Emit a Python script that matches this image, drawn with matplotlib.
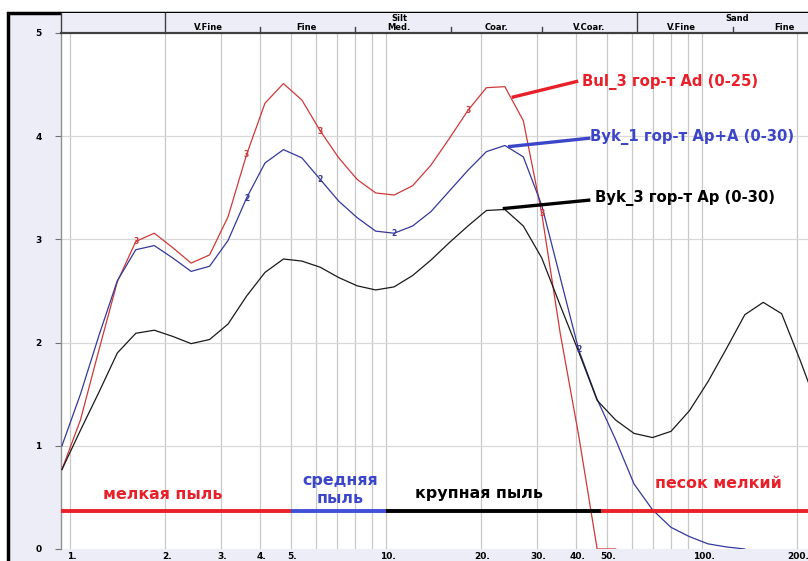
# Гранулометрический состав: кривые распределения частиц (лазерная дифрактометрия)
import matplotlib.pyplot as plt
import matplotlib.patches as mpatches
import matplotlib.transforms as mtransforms

plt.rcParams['font.family'] = ['DejaVu Sans']

# ---------------------------------------------------------------------------
# данные: размер частиц (мкм) и значения кривых
# ---------------------------------------------------------------------------
sizes = [0.943, 1.079, 1.235, 1.412, 1.615, 1.848, 2.114, 2.417, 2.766, 3.164,
         3.619, 4.140, 4.736, 5.418, 6.197, 7.089, 8.110, 9.278, 10.61, 12.14,
         13.88, 15.88, 18.17, 20.78, 23.78, 27.20, 31.11, 35.59, 40.72, 46.58,
         53.28, 60.95, 69.73, 79.77, 91.25, 104.4, 119.4, 136.6, 156.2, 178.7,
         204.4, 233.8]

bul3 = [0.77, 1.25, 1.93, 2.59, 2.98, 3.06, 2.92, 2.77, 2.85, 3.22,
        3.82, 4.32, 4.51, 4.35, 4.05, 3.79, 3.58, 3.45, 3.43, 3.52,
        3.72, 3.98, 4.25, 4.47, 4.48, 4.15, 3.25, 2.09, 1.10, 0.0, 0.0]

byk1 = [1.00, 1.50, 2.07, 2.60, 2.90, 2.94, 2.82, 2.69, 2.74, 2.99,
        3.40, 3.74, 3.87, 3.79, 3.58, 3.37, 3.21, 3.08, 3.06, 3.13,
        3.27, 3.47, 3.67, 3.85, 3.91, 3.80, 3.33, 2.63, 1.93, 1.45,
        1.06, 0.63, 0.38, 0.21, 0.12, 0.05, 0.02, 0.0]

byk3 = [0.77, 1.15, 1.52, 1.90, 2.09, 2.12, 2.06, 1.99, 2.03, 2.18,
        2.45, 2.68, 2.81, 2.79, 2.73, 2.63, 2.55, 2.51, 2.54, 2.65,
        2.80, 2.97, 3.13, 3.28, 3.29, 3.13, 2.82, 2.36, 1.91, 1.44,
        1.25, 1.12, 1.08, 1.14, 1.34, 1.62, 1.94, 2.27, 2.39, 2.28,
        1.83, 1.35]

# номера точек с цифровыми метками кривых
bul3_marks = [4, 10, 14, 22, 26]
byk1_marks = [10, 14, 18, 28]

# подписи шкалы
x_ticks = [1, 2, 3, 4, 5, 10, 20, 30, 40, 50, 100, 200]
x_grid = [1, 2, 3, 4, 5, 6, 7, 8, 9, 10, 20, 30, 40, 50, 60, 70, 80, 90, 100, 200]
y_ticks = [0, 1, 2, 3, 4, 5]

# шапка: классы Вентворта
class_bounds_major = [2, 62.5]
class_bounds_minor = [4, 8, 16, 31.25, 125]
class_names = ['V.Fine', 'Fine', 'Med.', 'Coar.', 'V.Coar.', 'V.Fine', 'Fine']
class_pos = [2.75, 5.6, 11.0, 22.4, 43.9, 86.4, 183]
group_names = ['Silt', 'Sand']
group_pos = [11.0, 129]

# нижние полосы фракций
band_edges = [0.9365, 5, 10, 48, 216.5]
band_colors = ['#E8202A', '#4050D8', '#000000', '#E8202A']
band_y = 0.37

RED = '#E8202A'
BLUE = '#3C46C8'
LAV = '#EDEDF8'

XMIN, XMAX = 0.9365, 216.5

# ---------------------------------------------------------------------------
fig = plt.figure(figsize=(8.08, 5.61), dpi=100)
W, H = 808, 561

# рамка и сиреневый фон
frame = mpatches.Rectangle((8 / W, -0.01), 1.0, 1 - 13 / H + 0.01,
                           transform=fig.transFigure, facecolor=LAV,
                           edgecolor='black', linewidth=2.5, zorder=-5)
fig.patches.append(frame)

ax = fig.add_axes([61 / W, 12 / H, (W - 61) / W, (549 - 33) / H])
ax.set_facecolor('white')
ax.set_xscale('log')
ax.set_xlim(XMIN, XMAX)
ax.set_ylim(0, 5)

for v in x_grid:
    ax.axvline(v, color='#C8C8C8', linewidth=0.9, zorder=1)
for v in [1, 2, 3, 4]:
    ax.axhline(v, color='#D8D8D8', linewidth=0.9, zorder=1)

for s in ['top', 'right', 'bottom']:
    ax.spines[s].set_visible(False)
ax.spines['left'].set_color('#909090')
ax.spines['left'].set_linewidth(1.0)

ax.set_yticks(y_ticks)
ax.set_yticklabels([str(v) for v in y_ticks], fontsize=6.5, fontweight='bold')
ax.tick_params(axis='y', length=4, width=0.8, color='#707070', pad=10)
ax.set_xticks(x_ticks)
ax.set_xticklabels([f'{v}.' for v in x_ticks], fontsize=6.5, fontweight='bold')
ax.tick_params(axis='x', length=0, pad=2)
ax.minorticks_off()
offset = mtransforms.ScaledTranslation(1.5 / 100, 0, fig.dpi_scale_trans)
for lbl in ax.get_xticklabels():
    lbl.set_transform(lbl.get_transform() + offset)

# кривые
ax.plot(sizes[:len(bul3)], bul3, color='#D03838', linewidth=0.9, zorder=3)
ax.plot(sizes[:len(byk1)], byk1, color='#34399A', linewidth=0.9, zorder=3)
ax.plot(sizes[:len(byk3)], byk3, color='#1A1A1A', linewidth=0.9, zorder=3)

for i in bul3_marks:
    ax.text(sizes[i], bul3[i], '3', color='#D03838', fontsize=5.5,
            fontweight='bold', ha='center', va='center', zorder=4)
for i in byk1_marks:
    ax.text(sizes[i], byk1[i], '2', color='#34399A', fontsize=5.5,
            fontweight='bold', ha='center', va='center', zorder=4)

# выноски с подписями образцов
ax.plot([25.3, 40.1], [4.38, 4.53], color=RED, linewidth=2.4, zorder=5)
ax.text(41.6, 4.53, 'Bul_3 гор-т Ad (0-25)', color=RED, fontsize=10.7,
        fontweight='bold', ha='left', va='center', zorder=5)
ax.plot([24.6, 43.8], [3.90, 3.98], color=BLUE, linewidth=2.4, zorder=5)
ax.text(44.1, 3.99, 'Byk_1 гор-т Ap+A (0-30)', color=BLUE, fontsize=10.7,
        fontweight='bold', ha='left', va='center', zorder=5)
ax.plot([23.7, 43.8], [3.30, 3.38], color='black', linewidth=2.4, zorder=5)
ax.text(45.7, 3.40, 'Byk_3 гор-т Ap (0-30)', color='black', fontsize=10.7,
        fontweight='bold', ha='left', va='center', zorder=5)

# полосы фракций
for i, c in enumerate(band_colors):
    ax.plot([band_edges[i], band_edges[i + 1]], [band_y, band_y], color=c,
            linewidth=2.8, solid_capstyle='butt', zorder=5)

ax.text(1.96, 0.53, 'мелкая пыль', color=RED, fontsize=11.4, fontweight='bold',
        ha='center', va='center')
ax.text(7.14, 0.66, 'средняя', color=BLUE, fontsize=11.4, fontweight='bold',
        ha='center', va='center')
ax.text(7.14, 0.49, 'пыль', color=BLUE, fontsize=11.4, fontweight='bold',
        ha='center', va='center')
ax.text(19.7, 0.54, 'крупная пыль', color='black', fontsize=11.4,
        fontweight='bold', ha='center', va='center')
ax.text(113, 0.63, 'песок мелкий', color=RED, fontsize=11.4, fontweight='bold',
        ha='center', va='center')

# ---------------------------------------------------------------------------
# шапка с классами
hx = fig.add_axes([61 / W, 1 - 33 / H, (W - 61) / W, 20 / H])
hx.set_facecolor(LAV)
hx.set_xscale('log')
hx.set_xlim(XMIN, XMAX)
hx.set_ylim(0, 1)
hx.set_xticks([])
hx.set_yticks([])
hx.minorticks_off()
for s in ['top', 'right']:
    hx.spines[s].set_visible(False)
hx.spines['bottom'].set_color('#404040')
hx.spines['bottom'].set_linewidth(1.6)
hx.spines['left'].set_color('#404040')
hx.spines['left'].set_linewidth(1.0)

for b in class_bounds_major:
    hx.axvline(b, color='#404040', linewidth=1.0)
for b in class_bounds_minor:
    hx.plot([b, b], [0, 0.3], color='#404040', linewidth=1.0)
for name, p in zip(class_names, class_pos):
    hx.text(p, 0.3, name, fontsize=6, fontweight='bold', ha='center',
            va='center')
for name, p in zip(group_names, group_pos):
    hx.text(p, 0.72, name, fontsize=6, fontweight='bold', ha='center',
            va='center')

fig.savefig('out.png', dpi=100, facecolor='white')
